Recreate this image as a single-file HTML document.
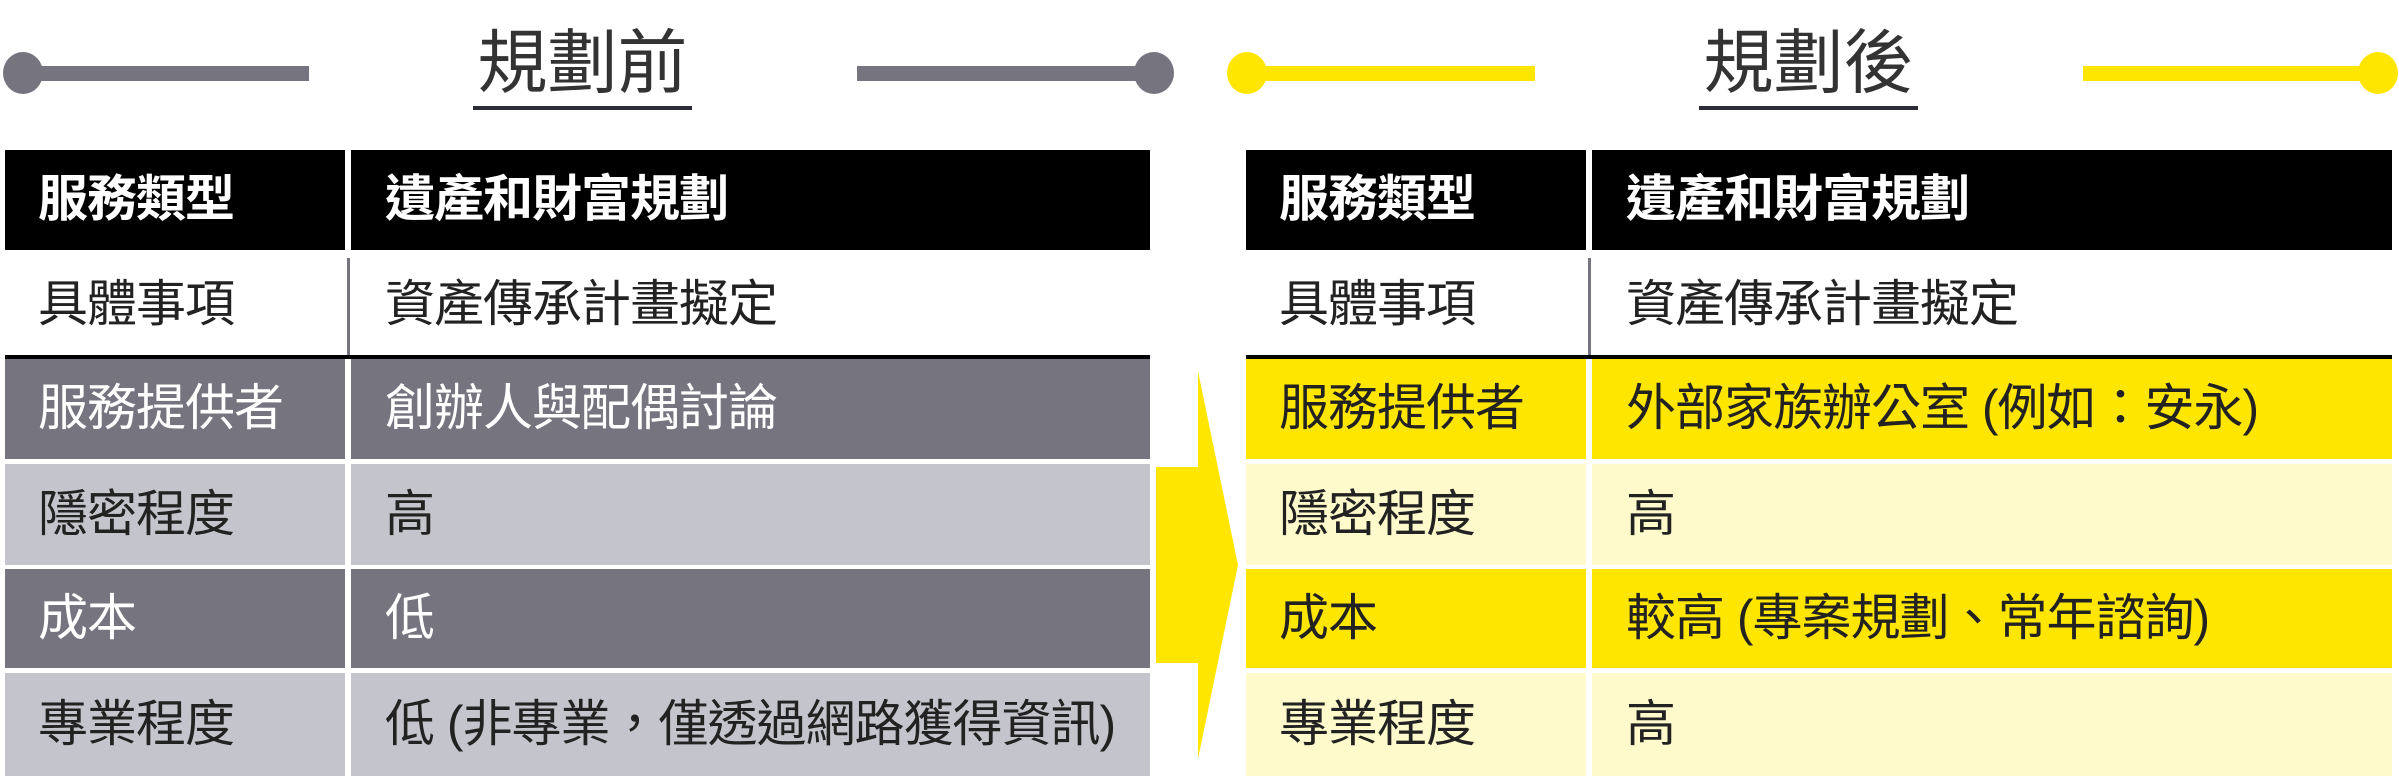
<!DOCTYPE html>
<html><head><meta charset="utf-8"><style>
body{margin:0;width:2399px;height:776px;background:#fff;position:relative;overflow:hidden;font-family:"Liberation Sans","Noto Sans CJK TC","Noto Sans CJK SC",sans-serif}
div{position:absolute;box-sizing:border-box}
.c{display:flex;align-items:center;font-size:50px;white-space:nowrap;padding-bottom:10px;letter-spacing:-1px}
.h{color:#fff;font-weight:bold;background:#000}
.t{font-size:70px;color:#333;line-height:1}
</style></head><body>
<div style="left:3px;top:52px;width:40px;height:42px;border-radius:50%;background:#75747f"></div>
<div style="left:22px;top:66px;width:287px;height:15px;background:#75747f"></div>
<div style="left:857px;top:66px;width:297px;height:15px;background:#75747f"></div>
<div style="left:1134px;top:52px;width:40px;height:42px;border-radius:50%;background:#75747f"></div>
<div class="t" style="left:473px;top:28px;width:219px;text-align:center">規劃前</div>
<div style="left:473px;top:106px;width:219px;height:4px;background:#2c2c36"></div>
<div style="left:1227px;top:52px;width:40px;height:42px;border-radius:50%;background:#ffe600"></div>
<div style="left:1247px;top:66px;width:288px;height:15px;background:#ffe600"></div>
<div style="left:2083px;top:66px;width:295px;height:15px;background:#ffe600"></div>
<div style="left:2358px;top:52px;width:40px;height:42px;border-radius:50%;background:#ffe600"></div>
<div class="t" style="left:1699px;top:28px;width:219px;text-align:center">規劃後</div>
<div style="left:1699px;top:106px;width:219px;height:4px;background:#2c2c36"></div>
<svg style="position:absolute;left:0;top:0" width="2399" height="776"><polygon points="1156,467 1198,467 1198,371 1238,565 1198,759 1198,663 1156,663" fill="#ffe600"/></svg>

<div class="c h" style="left:5px;top:150px;width:340px;height:100px;padding-left:33px">服務類型</div>
<div class="c h" style="left:351px;top:150px;width:799px;height:100px;padding-left:34px">遺產和財富規劃</div>
<div class="c" style="left:5px;top:253px;width:340px;height:103px;padding-left:33px;color:#222">具體事項</div>
<div style="left:347px;top:258px;width:3px;height:98px;background:#75747f"></div>
<div class="c" style="left:351px;top:253px;width:799px;height:103px;padding-left:34px;color:#222">資產傳承計畫擬定</div>
<div style="left:5px;top:355px;width:1145px;height:4px;background:#000"></div>
<div class="c" style="left:5px;top:359px;width:340px;height:100px;padding-left:33px;background:#75747f;color:#fff">服務提供者</div>
<div class="c" style="left:351px;top:359px;width:799px;height:100px;padding-left:34px;background:#75747f;color:#fff">創辦人與配偶討論</div>
<div class="c" style="left:5px;top:464px;width:340px;height:101px;padding-left:33px;background:#c4c4cc;color:#222">隱密程度</div>
<div class="c" style="left:351px;top:464px;width:799px;height:101px;padding-left:34px;background:#c4c4cc;color:#222">高</div>
<div class="c" style="left:5px;top:569px;width:340px;height:99px;padding-left:33px;background:#75747f;color:#fff">成本</div>
<div class="c" style="left:351px;top:569px;width:799px;height:99px;padding-left:34px;background:#75747f;color:#fff">低</div>
<div class="c" style="left:5px;top:673px;width:340px;height:103px;padding-left:33px;background:#c4c4cc;color:#222">專業程度</div>
<div class="c" style="left:351px;top:673px;width:799px;height:103px;padding-left:34px;background:#c4c4cc;color:#222">低 (非專業，僅透過網路獲得資訊)</div>

<div class="c h" style="left:1246px;top:150px;width:340px;height:100px;padding-left:33px">服務類型</div>
<div class="c h" style="left:1592px;top:150px;width:800px;height:100px;padding-left:34px">遺產和財富規劃</div>
<div class="c" style="left:1246px;top:253px;width:340px;height:103px;padding-left:33px;color:#222">具體事項</div>
<div style="left:1588px;top:258px;width:3px;height:98px;background:#75747f"></div>
<div class="c" style="left:1592px;top:253px;width:800px;height:103px;padding-left:34px;color:#222">資產傳承計畫擬定</div>
<div style="left:1246px;top:355px;width:1146px;height:4px;background:#000"></div>
<div class="c" style="left:1246px;top:359px;width:340px;height:100px;padding-left:33px;background:#ffe600;color:#222">服務提供者</div>
<div class="c" style="left:1592px;top:359px;width:800px;height:100px;padding-left:34px;background:#ffe600;color:#222">外部家族辦公室 (例如：安永)</div>
<div class="c" style="left:1246px;top:464px;width:340px;height:101px;padding-left:33px;background:#fffacc;color:#222">隱密程度</div>
<div class="c" style="left:1592px;top:464px;width:800px;height:101px;padding-left:34px;background:#fffacc;color:#222">高</div>
<div class="c" style="left:1246px;top:569px;width:340px;height:99px;padding-left:33px;background:#ffe600;color:#222">成本</div>
<div class="c" style="left:1592px;top:569px;width:800px;height:99px;padding-left:34px;background:#ffe600;color:#222">較高 (專案規劃、常年諮詢)</div>
<div class="c" style="left:1246px;top:673px;width:340px;height:103px;padding-left:33px;background:#fffacc;color:#222">專業程度</div>
<div class="c" style="left:1592px;top:673px;width:800px;height:103px;padding-left:34px;background:#fffacc;color:#222">高</div>
</body></html>
